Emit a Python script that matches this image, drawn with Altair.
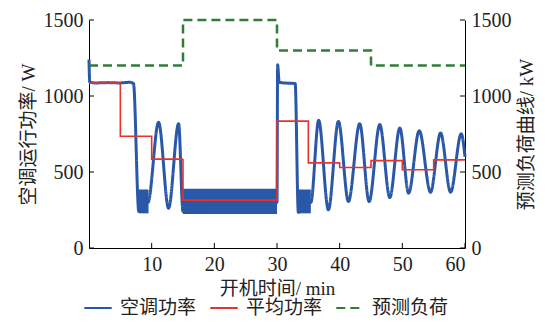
import altair as alt
import pandas as pd

SERIES = ["空调功率", "平均功率", "预测负荷"]
COLORS = ["#2a58a8", "#e8312c", "#2f7d36"]

# AC power key points (min, W)
ac_t = [0.0, 0.12, 1.0, 3.0, 5.0, 6.5, 7.1, 7.95, 8.6, 9.4, 11.1, 12.7, 14.3, 15.0, 22.0,
        30.0, 30.1, 30.35, 31.5, 32.9, 33.4, 34.5, 35.4, 36.65, 38.2, 39.8, 41.4, 43.2,
        44.7, 46.4, 48.0, 49.6, 51.0, 52.7, 54.5, 56.1, 57.7, 59.4, 60.0]
ac_w = [1240, 1092, 1086, 1088, 1086, 1090, 1082, 240, 300, 300, 827, 262, 818, 240, 300,
        300, 1205, 1090, 1085, 1082, 235, 300, 300, 840, 251, 833, 306, 818,
        306, 812, 332, 790, 361, 772, 367, 757, 367, 752, 600]
# dense switching bands (min start, min end, W low, W high)
band_t0 = [7.95, 15.0, 33.35]
band_t1 = [9.5, 30.0, 35.4]
band_lo = [228, 224, 228]
band_hi = [385, 389, 385]
# average power steps
avg_t = [0, 5, 10, 15, 30, 35, 40, 45, 50, 55, 60]
avg_w = [1085, 735, 585, 315, 835, 560, 530, 575, 515, 580, 580]
# predicted load (kW)
load_t = [0, 15, 30, 45, 60]
load_kw = [1200, 1500, 1300, 1200, 1200]

x_ticks = [10, 20, 30, 40, 50, 60]
y_ticks = [0, 500, 1000, 1500]

W, H = 376, 228
FONT = "Liberation Serif, Noto Sans CJK SC"

xscale = alt.Scale(domain=[0, 60], nice=False, zero=False)
yscale = alt.Scale(domain=[0, 1500], nice=False)

xaxis = alt.Axis(values=x_ticks, format="d", ticks=False, tickSize=0, labelPadding=6,
                 grid=False, titlePadding=5, labelFontSize=20, titleFontSize=19)
ylaxis = alt.Axis(orient="left", values=y_ticks, format="d", ticks=False, tickSize=0,
                  labelPadding=6, grid=False, titlePadding=5, labelFontSize=20,
                  titleFontSize=19)
yraxis = alt.Axis(orient="right", values=y_ticks, format="d", ticks=False, tickSize=0,
                  labelPadding=6, grid=False, titlePadding=6, labelFontSize=20,
                  titleFontSize=19, titleAngle=270, titleBaseline="top")

XT = "开机时间/ min"
YLT = "空调运行功率/ W"
YRT = "预测负荷曲线/ kW"


def X(f):
    return alt.X(f, scale=xscale, axis=xaxis, title=XT)


def YL(f):
    return alt.Y(f, scale=yscale, axis=ylaxis, title=YLT)


def YR(f):
    return alt.Y(f, scale=yscale, axis=yraxis, title=YRT)


leg = alt.Legend(orient="none", legendX=-6, legendY=273, direction="horizontal",
                 title=None, symbolType="stroke", symbolSize=750, symbolStrokeWidth=1.8,
                 labelFontSize=19, labelFont=FONT, columnPadding=9, labelOffset=7)
color = alt.Color("s:N", scale=alt.Scale(domain=SERIES, range=COLORS), legend=leg)
dash = alt.StrokeDash("s:N", scale=alt.Scale(domain=SERIES, range=[[1, 0], [1, 0], [9, 5]]),
                      legend=leg)

ac_df = pd.DataFrame({"t": ac_t, "w": ac_w, "s": SERIES[0]})
band_df = pd.DataFrame({"t0": band_t0, "t1": band_t1, "lo": band_lo, "hi": band_hi})
avg_df = pd.DataFrame({"t": avg_t, "w": avg_w, "s": SERIES[1]})
load_df = pd.DataFrame({"t": load_t, "w": load_kw, "s": SERIES[2]})

bands = alt.Chart(band_df).mark_rect(color=COLORS[0], opacity=1).encode(
    x=X("t0:Q"), x2="t1:Q", y=YL("lo:Q"), y2="hi:Q")
ac = alt.Chart(ac_df).mark_line(interpolate="monotone", strokeWidth=3).encode(
    x=X("t:Q"), y=YL("w:Q"), color=color, strokeDash=dash)
avg = alt.Chart(avg_df).mark_line(interpolate="step-after", strokeWidth=1.6).encode(
    x=X("t:Q"), y=YL("w:Q"), color=color, strokeDash=dash)
xt = alt.Chart(pd.DataFrame({"tv": x_ticks})).mark_rule(color="black", strokeWidth=1).encode(
    x=X("tv:Q"), y=alt.value(H), y2=alt.value(H - 5))
ylt = alt.Chart(pd.DataFrame({"yv": y_ticks})).mark_rule(color="black", strokeWidth=1).encode(
    y=YL("yv:Q"), x=alt.value(0), x2=alt.value(5))

load = alt.Chart(load_df).mark_line(interpolate="step-after", strokeWidth=2.5).encode(
    x=X("t:Q"), y=YR("w:Q"), color=color, strokeDash=dash)
yrt = alt.Chart(pd.DataFrame({"yv": y_ticks})).mark_rule(color="black", strokeWidth=1).encode(
    y=YR("yv:Q"), x=alt.value(W - 5), x2=alt.value(W))

left = alt.layer(bands, ac, avg, xt, ylt)
right = alt.layer(load, yrt)

chart = alt.layer(left, right).resolve_scale(y="independent").properties(
    width=W, height=H,
    padding={"left": 81, "top": 12, "right": 72, "bottom": 72},
    autosize=alt.AutoSizeParams(type="none"),
).configure_view(stroke=None).configure_axis(
    labelFont=FONT, titleFont=FONT, labelColor="#222", titleColor="#222",
    domainColor="black", domainWidth=1, titleFontWeight="normal"
).configure_legend(labelColor="#222")

chart.save("out.html", embed_options={"renderer": "svg", "actions": False})
